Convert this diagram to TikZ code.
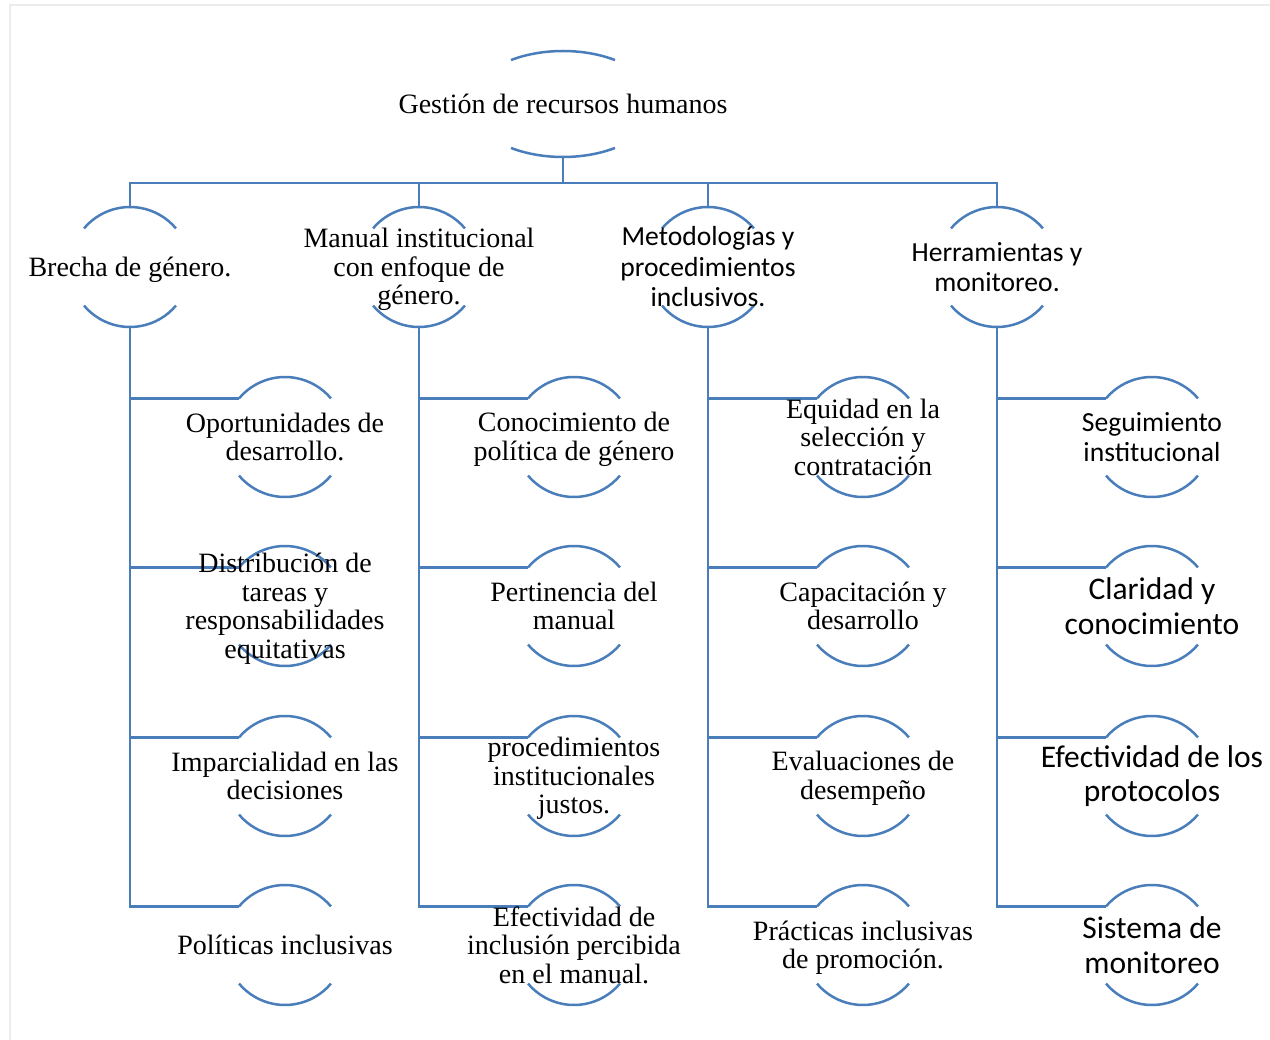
\documentclass[tikz,border=0pt]{standalone}
\usepackage{fontspec}
\setmainfont{Liberation Serif}
\newfontfamily\calib{Carlito}
\usetikzlibrary{shapes.geometric,calc}
\definecolor{lineblue}{RGB}{74,126,187}
\definecolor{framegray}{RGB}{236,236,236}
\tikzset{
  ring/.style={circle,minimum size=120pt,inner sep=0pt,outer sep=0pt},
  arcline/.style={draw=lineblue,line width=2.5pt},
  conn/.style={draw=lineblue,line width=2.5pt},
  tlabel/.style={align=center,inner sep=0pt,font={\fontsize{28}{28.5}\selectfont}},
  clabel/.style={align=center,inner sep=0pt,font={\calib\fontsize{27.6}{30.5}\selectfont}},
  cbig/.style={align=center,inner sep=0pt,font={\calib\fontsize{31.5}{34.5}\selectfont}},
  dshift/.style={yshift=-2.5pt},
}
\newcommand{\ringarcs}[1]{%
  \draw[arcline] (#1.140) arc[start angle=140,end angle=40,radius=60];
  \draw[arcline] (#1.220) arc[start angle=220,end angle=320,radius=60];}
\begin{document}
\begin{tikzpicture}[x=1pt,y=1pt]
\useasboundingbox (0,0) rectangle (1270,-1040);
% faint frame
\draw[framegray,line width=2pt] (10,-1040) -- (10,-5) -- (1270,-5);

% top node
\node[ellipse,minimum width=186pt,minimum height=106pt,inner sep=0pt,outer sep=0pt] (top) at (563,-104) {};
\draw[arcline] ($(top.center)+(124:93 and 53)$) arc[start angle=124,end angle=56,x radius=93,y radius=53];
\draw[arcline] ($(top.center)+(236:93 and 53)$) arc[start angle=236,end angle=304,x radius=93,y radius=53];
\node[tlabel] at (top.center) {Gestión de recursos humanos};

% level 1
\node[ring] (b1) at (130,-267) {};
\node[ring] (b2) at (419,-267) {};
\node[ring] (b3) at (708,-267) {};
\node[ring] (b4) at (997,-267) {};
\foreach \n in {b1,b2,b3,b4} {\ringarcs{\n}}

% level 2
\foreach \c/\x in {1/285,2/574,3/863,4/1152} {
  \foreach \r/\y in {1/437,2/606,3/776,4/945} {
    \node[ring] (c\c\r) at (\x,-\y) {};
  }
}
\foreach \c in {1,2,3,4} {\foreach \r in {1,2,3,4} {\ringarcs{c\c\r}}}

% connectors
\coordinate (bus) at (563,-183);
\draw[conn] (top.south) -- (bus);
\foreach \n in {b1,b2,b3,b4} {\draw[conn] (bus) -| (\n.north);}
\foreach \c in {1,2,3,4} {
  \foreach \r in {1,2,3,4} {\draw[conn] (b\c.south) |- (c\c\r.140);}
}

% labels level 1
\node[tlabel,dshift] at (b1) {Brecha de género.};
\node[tlabel,dshift] at (b2) {Manual institucional\\con enfoque de\\género.};
\node[clabel] at (b3) {Metodologías y\\procedimientos\\inclusivos.};
\node[clabel] at (b4) {Herramientas y\\monitoreo.};

% labels column 1
\node[tlabel] at (c11) {Oportunidades de\\desarrollo.};
\node[tlabel,dshift] at (c12) {Distribución de\\tareas y\\responsabilidades\\equitativas};
\node[tlabel] at (c13) {Imparcialidad en las\\decisiones};
\node[tlabel] at (c14) {Políticas inclusivas};

% labels column 2
\node[tlabel,dshift] at (c21) {Conocimiento de\\política de género};
\node[tlabel] at (c22) {Pertinencia del\\manual};
\node[tlabel,dshift] at (c23) {procedimientos\\institucionales\\justos.};
\node[tlabel] at (c24) {Efectividad de\\inclusión percibida\\en el manual.};

% labels column 3
\node[tlabel] at (c31) {Equidad en la\\selección y\\contratación};
\node[tlabel] at (c32) {Capacitación y\\desarrollo};
\node[tlabel,dshift] at (c33) {Evaluaciones de\\desempeño};
\node[tlabel,dshift] at (c34) {Prácticas inclusivas\\de promoción.};

% labels column 4
\node[clabel] at (c41) {Seguimiento\\institucional};
\node[cbig] at (c42) {Claridad y\\conocimiento};
\node[cbig] at (c43) {Efectividad de los\\protocolos};
\node[cbig] at (c44) {Sistema de\\monitoreo};
\end{tikzpicture}
\end{document}
